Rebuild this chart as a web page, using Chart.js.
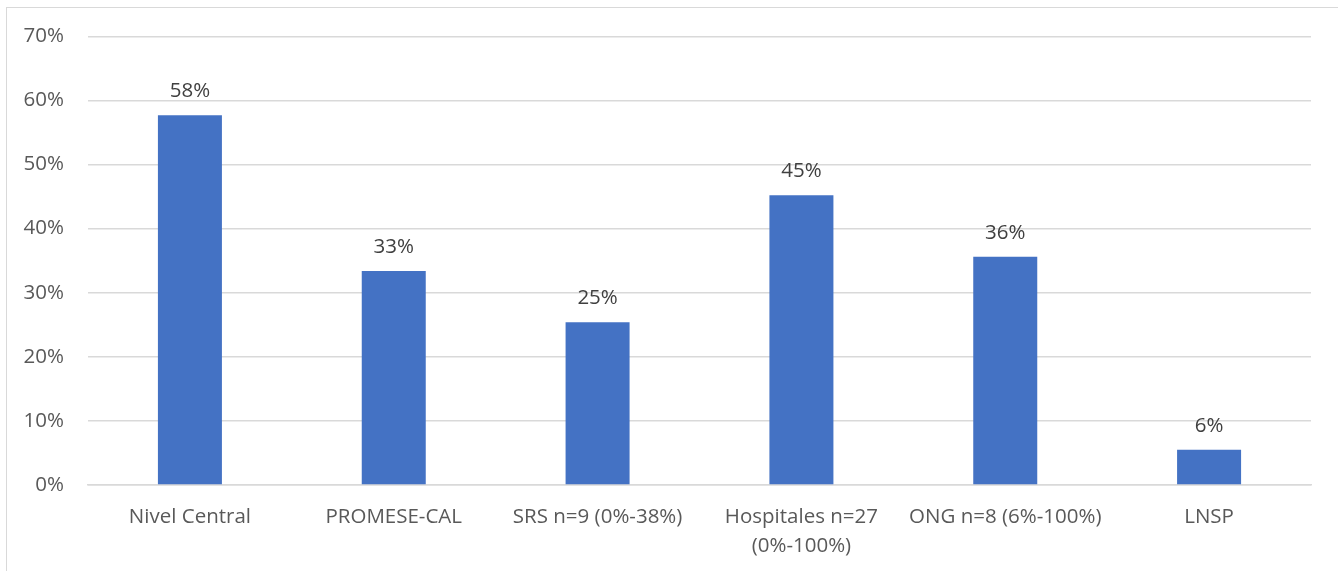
<!DOCTYPE html>
<html lang="es">
<head>
    <meta charset="UTF-8">
    <title>Porcentaje por nivel</title>
    <script src="https://cdn.jsdelivr.net/npm/chart.js"></script>
    <style>
        body {
            margin: 0;
            background: #ffffff;
            overflow: hidden;
        }
        #frame {
            position: absolute;
            left: 6px;
            top: 7px;
            width: 1400px;
            height: 700px;
            border: 1px solid #d9d9d9;
        }
        #chartContainer {
            position: absolute;
            left: 0;
            top: 0;
            width: 1338px;
            height: 571px;
        }
    </style>
</head>
<body>
    <div id="frame"></div>
    <div id="chartContainer">
        <canvas id="nivelChart"></canvas>
    </div>

    <script>
        // Categories (multi-line where the label wraps)
        const categories = [
            'Nivel Central',
            'PROMESE-CAL',
            'SRS n=9 (0%-38%)',
            ['Hospitales n=27', '(0%-100%)'],
            'ONG n=8 (6%-100%)',
            'LNSP'
        ];

        // Percent values per category
        const percentValues = [57.7, 33.4, 25.4, 45.2, 35.6, 5.5];

        // Y axis range in percent
        const yMin = 0;
        const yMax = 70;
        const yStep = 10;

        const fontFamily = '"Open Sans", "Liberation Sans", sans-serif';
        const fontSize = 20.5;

        // Draws the rounded percentage above each bar
        const valueLabels = {
            id: 'valueLabels',
            afterDatasetsDraw(chart) {
                const ctx = chart.ctx;
                const meta = chart.getDatasetMeta(0);
                ctx.save();
                ctx.font = fontSize + 'px ' + fontFamily;
                ctx.fillStyle = '#404040';
                ctx.textAlign = 'center';
                ctx.textBaseline = 'alphabetic';
                meta.data.forEach((bar, i) => {
                    const text = Math.round(percentValues[i]) + '%';
                    ctx.fillText(text, bar.x, bar.y - 18);
                });
                ctx.restore();
            }
        };

        function renderChart() {
            const ctx = document.getElementById('nivelChart').getContext('2d');
            new Chart(ctx, {
                type: 'bar',
                data: {
                    labels: categories,
                    datasets: [{
                        data: percentValues,
                        backgroundColor: '#4472c4',
                        borderWidth: 0,
                        categoryPercentage: 1,
                        barPercentage: 0.314
                    }]
                },
                options: {
                    responsive: true,
                    maintainAspectRatio: false,
                    animation: false,
                    layout: {
                        padding: { top: 36, right: 27, left: 0, bottom: 0 }
                    },
                    scales: {
                        y: {
                            min: yMin,
                            max: yMax,
                            afterFit(scale) { scale.width = 88; },
                            ticks: {
                                stepSize: yStep,
                                padding: 24,
                                color: '#595959',
                                font: { family: fontFamily, size: fontSize },
                                callback: v => v + '%'
                            },
                            grid: {
                                color: '#d9d9d9',
                                lineWidth: 1.5,
                                drawTicks: false
                            },
                            border: { display: false }
                        },
                        x: {
                            afterFit(scale) { scale.height = 86; },
                            ticks: {
                                padding: 18,
                                maxRotation: 0,
                                autoSkip: false,
                                color: '#595959',
                                font: { family: fontFamily, size: fontSize, lineHeight: 1.4 }
                            },
                            grid: { display: false, drawTicks: false },
                            border: { color: '#d9d9d9', width: 1.5 }
                        }
                    },
                    plugins: {
                        legend: { display: false },
                        tooltip: { enabled: false }
                    }
                },
                plugins: [valueLabels]
            });
        }

        window.onload = renderChart;
    </script>
</body>
</html>
